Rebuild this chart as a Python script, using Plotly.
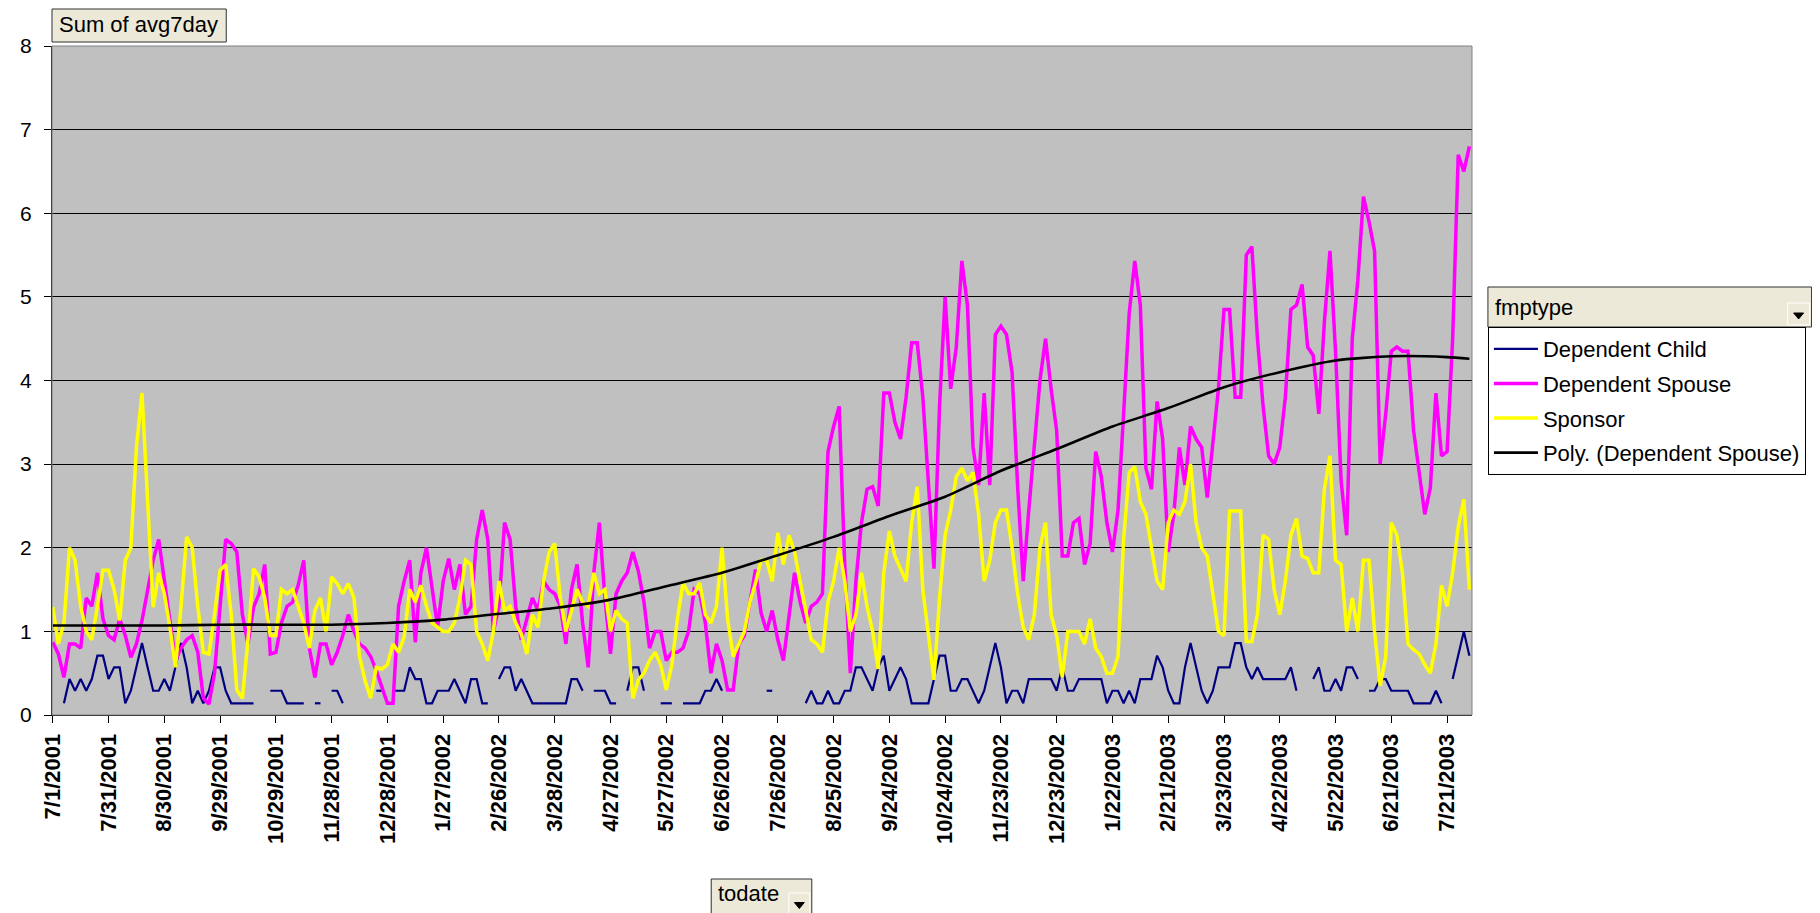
import pandas as pd
import plotly.graph_objects as go

# ---------------- data (7-day averages, read every 3rd day) ----------------
start_date = "2001-07-01"
step_days = 3

dependent_child = [
    None, None, 0.14, 0.43, 0.29, 0.43, 0.29, 0.43, 0.71, 0.71,
    0.43, 0.57, 0.57, 0.14, 0.29, 0.57, 0.86, 0.57, 0.29, 0.29,
    0.43, 0.29, 0.57, 0.86, 0.57, 0.14, 0.29, 0.14, 0.29, 0.57,
    0.57, 0.29, 0.14, 0.14, 0.14, 0.14, 0.14, None, None, 0.29,
    0.29, 0.29, 0.14, 0.14, 0.14, 0.14, None, 0.14, 0.14, None,
    0.29, 0.29, 0.14, None, None, None, None, None, 0.29, 0.29,
    None, 0.29, 0.29, 0.29, 0.57, 0.43, 0.43, 0.14, 0.14, 0.29,
    0.29, 0.29, 0.43, 0.29, 0.14, 0.43, 0.43, 0.14, 0.14, None,
    0.43, 0.57, 0.57, 0.29, 0.43, 0.29, 0.14, 0.14, 0.14, 0.14,
    0.14, 0.14, 0.14, 0.43, 0.43, 0.29, None, 0.29, 0.29, 0.29,
    0.14, 0.14, None, 0.29, 0.57, 0.57, 0.29, None, None, 0.14,
    0.14, 0.14, None, 0.14, 0.14, 0.14, 0.14, 0.29, 0.29, 0.43,
    0.29, None, None, None, None, None, None, None, 0.29, 0.29,
    None, None, None, None, None, 0.14, 0.29, 0.14, 0.14, 0.29,
    0.14, 0.14, 0.29, 0.29, 0.57, 0.57, 0.43, 0.29, 0.57, 0.71,
    0.29, 0.43, 0.57, 0.43, 0.14, 0.14, 0.14, 0.14, 0.43, 0.71,
    0.71, 0.29, 0.29, 0.43, 0.43, 0.29, 0.14, 0.29, 0.57, 0.86,
    0.57, 0.14, 0.29, 0.29, 0.14, 0.43, 0.43, 0.43, 0.43, 0.43,
    0.29, 0.57, 0.29, 0.29, 0.43, 0.43, 0.43, 0.43, 0.43, 0.14,
    0.29, 0.29, 0.14, 0.29, 0.14, 0.43, 0.43, 0.43, 0.71, 0.57,
    0.29, 0.14, 0.14, 0.57, 0.86, 0.57, 0.29, 0.14, 0.29, 0.57,
    0.57, 0.57, 0.86, 0.86, 0.57, 0.43, 0.57, 0.43, 0.43, 0.43,
    0.43, 0.43, 0.57, 0.29, None, None, 0.43, 0.57, 0.29, 0.29,
    0.43, 0.29, 0.57, 0.57, 0.43, None, 0.29, 0.29, 0.43, 0.43,
    0.29, 0.29, 0.29, 0.29, 0.14, 0.14, 0.14, 0.14, 0.29, 0.14,
    None, 0.43, 0.71, 1.0, 0.71,
]

dependent_spouse = [
    0.87, 0.73, 0.45, 0.85, 0.85, 0.8, 1.4, 1.3, 1.7, 1.15,
    0.95, 0.9, 1.15, 0.95, 0.69, 0.85, 1.13, 1.5, 1.85, 2.1,
    1.6, 1.1, 0.65, 0.8, 0.9, 0.95, 0.75, 0.2, 0.13, 0.5,
    1.3, 2.1, 2.05, 1.95, 1.2, 0.85, 1.29, 1.45, 1.8, 0.73,
    0.75, 1.1, 1.3, 1.35, 1.55, 1.85, 0.8, 0.45, 0.85, 0.85,
    0.6, 0.75, 0.95, 1.2, 1.0, 0.85, 0.8, 0.7, 0.53, 0.33,
    0.14, 0.14, 1.3, 1.6, 1.85, 0.87, 1.7, 2.0, 1.5, 1.05,
    1.6, 1.87, 1.5, 1.8, 1.2, 1.3, 2.1, 2.45, 2.1, 1.0,
    1.3, 2.3, 2.1, 1.3, 0.9, 1.15, 1.4, 1.25, 1.6, 1.5,
    1.45, 1.3, 0.85, 1.5, 1.8, 1.1, 0.57, 1.7, 2.3, 1.4,
    0.73, 1.45, 1.6, 1.7, 1.95, 1.72, 1.35, 0.8, 1.0, 1.0,
    0.65, 0.75, 0.75, 0.8, 1.0, 1.5, 1.45, 1.1, 0.5, 0.85,
    0.65, 0.3, 0.3, 0.85, 0.95, 1.35, 1.74, 1.22, 1.0, 1.25,
    0.9, 0.65, 1.2, 1.7, 1.35, 1.1, 1.3, 1.35, 1.45, 3.15,
    3.45, 3.69, 1.8, 0.5, 1.6, 2.3, 2.7, 2.73, 2.5, 3.85,
    3.85, 3.5, 3.3, 3.8, 4.45, 4.45, 3.8, 2.7, 1.75, 3.7,
    5.0, 3.9, 4.4, 5.43, 4.9, 3.2, 2.75, 3.85, 2.75, 4.55,
    4.65, 4.55, 4.1, 2.73, 1.6, 2.45, 3.2, 4.0, 4.5, 3.9,
    3.4, 1.9, 1.9, 2.3, 2.35, 1.8, 2.05, 3.15, 2.85, 2.3,
    1.95, 2.45, 3.6, 4.8, 5.43, 4.9, 2.95, 2.7, 3.75, 3.3,
    1.95, 2.4, 3.2, 2.75, 3.45, 3.3, 3.2, 2.6, 3.25, 3.9,
    4.85, 4.85, 3.8, 3.8, 5.5, 5.6, 4.5, 3.7, 3.1, 3.0,
    3.2, 3.8, 4.85, 4.9, 5.15, 4.4, 4.3, 3.6, 4.7, 5.55,
    4.35, 2.8, 2.15, 4.5, 5.2, 6.2, 5.9, 5.55, 3.0, 3.6,
    4.35, 4.4, 4.35, 4.35, 3.4, 2.9, 2.4, 2.72, 3.85, 3.1,
    3.15, 4.5, 6.7, 6.5, 6.8,
]

sponsor = [
    1.29, 0.85, 1.1, 2.0, 1.85, 1.3, 1.0, 0.9, 1.3, 1.73,
    1.73, 1.5, 1.13, 1.85, 2.0, 3.2, 3.85, 2.6, 1.29, 1.7,
    1.45, 1.05, 0.57, 1.3, 2.13, 2.0, 1.3, 0.75, 0.73, 1.2,
    1.73, 1.8, 1.2, 0.3, 0.2, 0.9, 1.75, 1.65, 1.4, 0.95,
    0.95, 1.5, 1.45, 1.5, 1.3, 1.1, 0.8, 1.25, 1.4, 1.0,
    1.65, 1.57, 1.45, 1.57, 1.4, 0.7, 0.41, 0.2, 0.57, 0.55,
    0.6, 0.85, 0.75, 0.93, 1.5, 1.35, 1.55, 1.3, 1.1, 1.05,
    1.0, 1.0, 1.1, 1.4, 1.85, 1.8, 1.0, 0.85, 0.65, 1.0,
    1.6, 1.25, 1.3, 1.1, 0.97, 0.73, 1.2, 1.05, 1.6, 1.95,
    2.05, 1.4, 1.0, 1.25, 1.5, 1.35, 1.3, 1.7, 1.45, 1.5,
    1.0, 1.25, 1.15, 1.1, 0.2, 0.42, 0.5, 0.65, 0.75, 0.6,
    0.3, 0.6, 1.15, 1.58, 1.45, 1.45, 1.58, 1.2, 1.1, 1.3,
    2.0, 1.15, 0.7, 0.85, 1.0, 1.35, 1.58, 1.85, 1.85, 1.6,
    2.18, 1.8, 2.15, 1.95, 1.6, 1.3, 0.9, 0.85, 0.75, 1.35,
    1.6, 2.0, 1.6, 1.0, 1.2, 1.7, 1.3, 1.0, 0.55, 1.7,
    2.2, 1.9, 1.75, 1.6, 2.3, 2.73, 1.5, 1.0, 0.42, 1.4,
    2.15, 2.45, 2.85, 2.95, 2.8, 2.9, 2.4, 1.6, 1.85, 2.3,
    2.45, 2.45, 2.0, 1.45, 1.05, 0.9, 1.2, 2.0, 2.3, 1.2,
    0.95, 0.45, 1.0, 1.0, 1.0, 0.85, 1.15, 0.8, 0.7, 0.5,
    0.5, 0.7, 2.1, 2.9, 2.97, 2.55, 2.4, 2.0, 1.6, 1.5,
    2.3, 2.45, 2.4, 2.55, 3.0, 2.3, 2.0, 1.9, 1.44, 1.0,
    0.95, 2.44, 2.44, 2.44, 0.88, 0.88, 1.2, 2.15, 2.1, 1.5,
    1.2, 1.6, 2.15, 2.35, 1.9, 1.87, 1.7, 1.7, 2.7, 3.1,
    1.85, 1.8, 1.0, 1.4, 1.0, 1.85, 1.85, 1.0, 0.35, 0.7,
    2.3, 2.15, 1.7, 0.85, 0.78, 0.73, 0.6, 0.5, 0.85, 1.55,
    1.3, 1.7, 2.25, 2.58, 1.5,
]

# polynomial trendline of Dependent Spouse
trend_dates = [
    "2001-07-01", "2001-07-31", "2001-08-30", "2001-09-29", "2001-10-29",
    "2001-11-28", "2001-12-28", "2002-01-27", "2002-02-26", "2002-03-28",
    "2002-04-27", "2002-05-27", "2002-06-26", "2002-07-26", "2002-08-25",
    "2002-09-24", "2002-10-24", "2002-11-23", "2002-12-23", "2003-01-22",
    "2003-02-21", "2003-03-23", "2003-04-22", "2003-05-22", "2003-06-21",
    "2003-07-21", "2003-08-02",
]
trend_values = [
    1.07, 1.07, 1.07, 1.08, 1.08, 1.08, 1.10, 1.14, 1.21, 1.28,
    1.38, 1.54, 1.70, 1.91, 2.13, 2.38, 2.61, 2.92, 3.18, 3.45,
    3.67, 3.92, 4.10, 4.24, 4.29, 4.28, 4.26,
]

tick_labels = [
    "7/1/2001", "7/31/2001", "8/30/2001", "9/29/2001", "10/29/2001",
    "11/28/2001", "12/28/2001", "1/27/2002", "2/26/2002", "3/28/2002",
    "4/27/2002", "5/27/2002", "6/26/2002", "7/26/2002", "8/25/2002",
    "9/24/2002", "10/24/2002", "11/23/2002", "12/23/2002", "1/22/2003",
    "2/21/2003", "3/23/2003", "4/22/2003", "5/22/2003", "6/21/2003",
    "7/21/2003",
]
tick_step_days = 30

# ---------------- figure ----------------
dates = pd.date_range(start_date, periods=len(sponsor), freq=f"{step_days}D")
tick_dates = pd.date_range(start_date, periods=len(tick_labels), freq=f"{tick_step_days}D")
t0 = pd.Timestamp(start_date)
x_range = [t0 - pd.Timedelta(hours=10), t0 + pd.Timedelta(days=763.4)]

FONT = "Arial, 'Liberation Sans', sans-serif"
OX, OY = 8, 8                       # page (body) offset of the figure
W, H = 1820 - OX, 913 - OY
L, R, T, B = 46, 1472, 46, 715      # plot area in window pixels


def px(x):
    return (x - L) / (R - L)


def py(y):
    return (B - y) / (B - T)


fig = go.Figure()
fig.add_trace(go.Scatter(x=dates, y=dependent_child, mode="lines", name="Dependent Child",
                         line=dict(color="#000080", width=2.2), connectgaps=False,
                         legendgroup="a"))
fig.add_trace(go.Scatter(x=dates, y=dependent_spouse, mode="lines", name="Dependent Spouse",
                         line=dict(color="#FF00FF", width=3.5), legendgroup="b"))
fig.add_trace(go.Scatter(x=dates, y=sponsor, mode="lines", name="Sponsor",
                         line=dict(color="#FFFF00", width=3.5), legendgroup="c"))
fig.add_trace(go.Scatter(x=pd.to_datetime(trend_dates), y=trend_values, mode="lines",
                         name="Poly. (Dependent Spouse)",
                         line=dict(color="#000000", width=2.6, shape="spline", smoothing=0.6),
                         legendgroup="d"))

shapes = []
annotations = []

# plot-area border
shapes.append(dict(type="rect", xref="paper", yref="paper", x0=0, x1=1, y0=0, y1=1,
                   line=dict(color="#808080", width=1), fillcolor="rgba(0,0,0,0)", layer="above"))


def button(x0, y0, x1, y1, label, arrow=None, ty=None):
    shapes.append(dict(type="rect", xref="paper", yref="paper",
                       x0=px(x0), x1=px(x1), y0=py(y1), y1=py(y0),
                       line=dict(color="#303030", width=1), fillcolor="#ECE9D8"))
    annotations.append(dict(xref="paper", yref="paper", x=px(x0 + 5),
                            y=py(ty if ty is not None else (y0 + y1) / 2),
                            text=label, showarrow=False, xanchor="left", yanchor="middle",
                            font=dict(family=FONT, size=22, color="#000000")))
    if arrow:
        ax0, ay0, ax1, ay1 = arrow
        shapes.append(dict(type="rect", xref="paper", yref="paper",
                           x0=px(ax0), x1=px(ax1), y0=py(ay1), y1=py(ay0),
                           line=dict(color="#FFFFFF", width=1), fillcolor="#ECE9D8"))
        cx = (ax0 + ax1) / 2
        cy = (ay0 + ay1) / 2 + 2
        path = (f"M {px(cx - 5)} {py(cy - 3)} L {px(cx + 5)} {py(cy - 3)} "
                f"L {px(cx)} {py(cy + 3)} Z")
        shapes.append(dict(type="path", xref="paper", yref="paper", path=path,
                           fillcolor="#000000", line=dict(color="#000000", width=1)))


button(46, 9, 221, 42, "Sum of avg7day", ty=25)
button(1488, 287, 1813, 327, "fmptype", arrow=(1789, 303, 1811, 325))
button(708, 879, 809, 916, "todate", arrow=(786, 893, 807, 914), ty=893)

fig.update_layout(
    width=W, height=H,
    margin=dict(l=L - OX, r=W - (R - OX), t=T - OY, b=H - (B - OY), pad=0),
    paper_bgcolor="#FFFFFF",
    plot_bgcolor="#C0C0C0",
    font=dict(family=FONT, size=20, color="#000000"),
    showlegend=True,
    legend=dict(x=px(1488), y=py(327), xanchor="left", yanchor="top",
                bgcolor="#FFFFFF", bordercolor="#000000", borderwidth=1,
                font=dict(family=FONT, size=22, color="#000000"),
                tracegroupgap=3, itemwidth=44),
    shapes=shapes,
    annotations=annotations,
    xaxis=dict(
        type="date", range=x_range,
        tickvals=tick_dates, ticktext=tick_labels, tickangle=-90,
        tickfont=dict(family=FONT, size=22, color="#000000", weight="bold"),
        ticks="outside", ticklen=7, tickcolor="#000000",
        showgrid=False, zeroline=False,
        showline=True, linecolor="#000000", linewidth=1,
        ticklabelstandoff=2,
    ),
    yaxis=dict(
        range=[0, 8], dtick=1, tick0=0,
        tickfont=dict(family=FONT, size=21, color="#000000"),
        ticks="outside", ticklen=7, tickcolor="#000000",
        showgrid=True, gridcolor="#000000", gridwidth=1,
        zeroline=False,
        showline=True, linecolor="#000000", linewidth=1,
        ticklabelstandoff=8,
    ),
)

fig.write_html("out.html")
